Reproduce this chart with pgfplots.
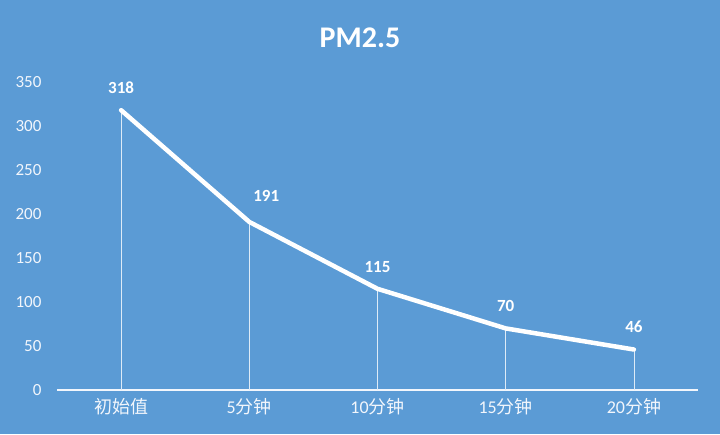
\documentclass[border=0pt]{standalone}
\usepackage{fontspec}
\setmainfont{Carlito}
\newfontfamily\cjk{Noto Sans CJK SC}
\usepackage{pgfplots}
\pgfplotsset{compat=1.18}
\definecolor{bg}{HTML}{5B9BD5}
\definecolor{lbl}{HTML}{F2F6FC}
\begin{document}
\begin{tikzpicture}[x=1pt,y=1pt]
\fill[bg] (0,0) rectangle (720,434);
\useasboundingbox (0,0) rectangle (720,434);
\node[text=white,font=\fontsize{30}{34}\selectfont\bfseries] at (360,396) {PM2.5};
\begin{axis}[
  at={(57pt,44pt)}, anchor=south west,
  scale only axis, width=641pt, height=308pt,
  xmin=-0.5, xmax=4.5, ymin=0, ymax=350,
  axis x line*=bottom, axis y line*=left,
  x axis line style={draw=lbl, line width=1.2pt},
  y axis line style={draw=none},
  xtick=data,
  xticklabels={{\cjk 初始值},{5\cjk 分钟},{10\cjk 分钟},{15\cjk 分钟},{20\cjk 分钟}},
  ytick={0,50,...,350},
  major tick length=0pt,
  tick label style={text=lbl, font=\fontsize{17}{19}\selectfont},
  xticklabel style={font=\fontsize{18}{20}\selectfont, yshift=-5pt},
  /pgf/number format/assume math mode=true,
  yticklabel style={xshift=-12pt},
  clip=false,
]
\addplot[ycomb, draw=white!80!bg, line width=0.8pt] coordinates {(0,318) (1,191) (2,115) (3,70) (4,46)};
\addplot[white, line width=4.5pt, line join=round, line cap=round,
  nodes near coords, point meta=explicit symbolic,
  coordinate style/.condition={\coordindex==1}{xshift=17pt, yshift=4pt},
  every node near coord/.append style={text=white, font=\fontsize{17}{19}\selectfont\bfseries, anchor=south, yshift=11pt}]
  coordinates {(0,318)[318] (1,191)[191] (2,115)[115] (3,70)[70] (4,46)[46]};
\end{axis}
\end{tikzpicture}
\end{document}
